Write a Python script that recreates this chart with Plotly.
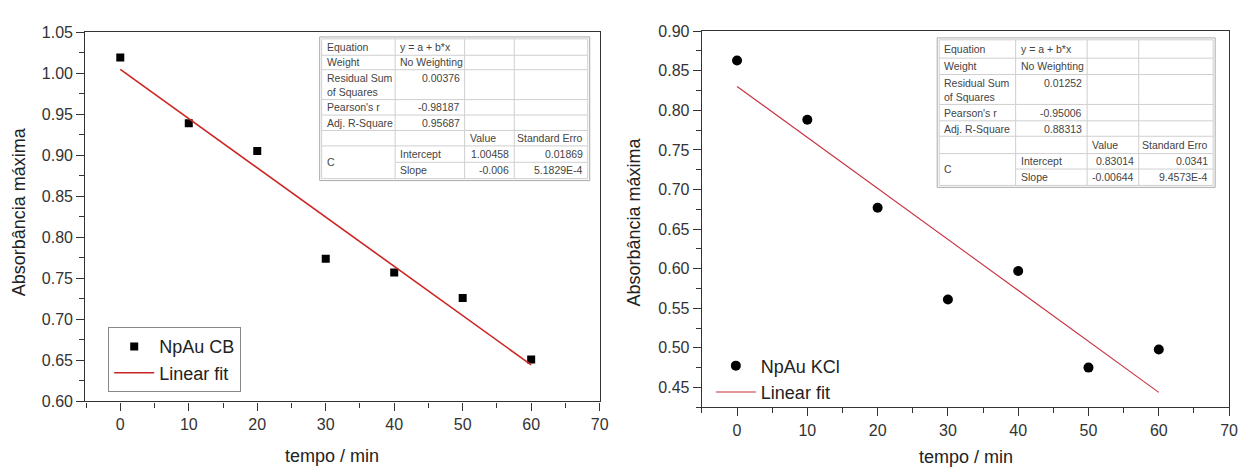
import plotly.graph_objects as go

W, H = 1249, 476

# ---- data ----
t_cb = [0, 10, 20, 30, 40, 50, 60]
abs_cb = [1.019, 0.939, 0.905, 0.774, 0.757, 0.726, 0.651]
fit_cb = {"a": 1.00458, "b": -0.006}

t_kcl = [0, 10, 20, 30, 40, 50, 60]
abs_kcl = [0.863, 0.788, 0.677, 0.561, 0.597, 0.475, 0.498]
fit_kcl = {"a": 0.83014, "b": -0.00644}

table_cb = ["0.00376", "-0.98187", "0.95687", "1.00458", "0.01869", "-0.006", "5.1829E-4"]
table_kcl = ["0.01252", "-0.95006", "0.88313", "0.83014", "0.0341", "-0.00644", "9.4573E-4"]

x_ticks = [0, 10, 20, 30, 40, 50, 60, 70]


def px(x):
    return x / W


def py(y):
    return 1 - y / H


FONT = "Liberation Sans, Arial"

fig = go.Figure()

fig.add_trace(go.Scatter(x=t_cb, y=abs_cb, mode="markers", name="NpAu CB",
                         marker=dict(symbol="square", size=8, color="black"),
                         xaxis="x", yaxis="y", legend="legend"))
fx = [t_cb[0], t_cb[-1]]
fig.add_trace(go.Scatter(x=fx, y=[fit_cb["a"] + fit_cb["b"] * v for v in fx], mode="lines",
                         name="Linear fit", line=dict(color="#cc2424", width=1.6),
                         xaxis="x", yaxis="y", legend="legend"))

fig.add_trace(go.Scatter(x=t_kcl, y=abs_kcl, mode="markers", name="NpAu KCl",
                         marker=dict(symbol="circle", size=10, color="black"),
                         xaxis="x2", yaxis="y2", legend="legend2"))
fx2 = [t_kcl[0], t_kcl[-1]]
fig.add_trace(go.Scatter(x=fx2, y=[fit_kcl["a"] + fit_kcl["b"] * v for v in fx2], mode="lines",
                         name="Linear fit", line=dict(color="#c8303c", width=1.1),
                         xaxis="x2", yaxis="y2", legend="legend2"))

tickfont = dict(family=FONT, size=16, color="#333")
axcommon = dict(showgrid=False, zeroline=False, showline=True, linecolor="#333", linewidth=1.4,
                mirror=True, ticks="outside", ticklen=8, tickcolor="#333", tickwidth=1.4,
                tickfont=tickfont)
minor_common = dict(ticks="outside", ticklen=5, tickcolor="#333", tickwidth=1.2)

fig.update_layout(
    width=W, height=H, margin=dict(l=0, r=0, t=0, b=0),
    plot_bgcolor="white", paper_bgcolor="white",
    xaxis=dict(domain=[px(86), px(604)], range=[-5.1, 70], tickvals=x_ticks,
               minor=dict(dtick=5, tick0=0, **minor_common),
               anchor="y", **axcommon),
    yaxis=dict(domain=[py(408), py(25)], range=[0.60, 1.05], dtick=0.05, tickformat=".2f",
               minor=dict(dtick=0.025, **minor_common),
               anchor="x", **axcommon),
    xaxis2=dict(domain=[px(707), px(1238)], range=[-5, 70], tickvals=x_ticks,
                minor=dict(dtick=5, tick0=0, **minor_common),
                anchor="y2", **axcommon),
    yaxis2=dict(domain=[py(414), py(24)], range=[0.425, 0.90], dtick=0.05, tick0=0.45, tickformat=".2f",
                minor=dict(dtick=0.025, tick0=0.45, **minor_common),
                anchor="x2", **axcommon),
    legend=dict(x=px(109), y=py(331), xanchor="left", yanchor="top",
                bgcolor="white", bordercolor="#888", borderwidth=1,
                font=dict(family=FONT, size=18, color="#222"),
                tracegroupgap=0, itemwidth=40),
    legend2=dict(x=px(716), y=py(352), xanchor="left", yanchor="top",
                 bgcolor="rgba(0,0,0,0)", borderwidth=0,
                 font=dict(family=FONT, size=18, color="#222"),
                 tracegroupgap=0, itemwidth=40),
)

annots = []
shapes = []
titlefont = dict(family=FONT, size=18, color="#222")


def title(x, y, text, angle=0):
    annots.append(dict(x=px(x), y=py(y), text=text, textangle=angle, showarrow=False,
                       xref="paper", yref="paper", xanchor="center", yanchor="middle",
                       font=titlefont))


title(20, 211, "Absorbância máxima", -90)
title(639, 222, "Absorbância máxima", -90)
title(334, 465, "tempo / min")
title(973, 466, "tempo / min")


def add_table(cols, rows, vals):
    f = dict(family=FONT, size=10.5, color="#444")
    gc = "#cfcfcf"
    x0, x1 = cols[0], cols[-1]
    for i, yb in enumerate(rows):
        xs = cols[1] if i == 7 else x0
        shapes.append(dict(type="line", xref="paper", yref="paper", x0=px(xs), x1=px(x1),
                           y0=py(yb), y1=py(yb), line=dict(color=gc, width=1)))
    for c in cols:
        shapes.append(dict(type="line", xref="paper", yref="paper", x0=px(c), x1=px(c),
                           y0=py(rows[0]), y1=py(rows[-1]), line=dict(color=gc, width=1)))
    shapes.append(dict(type="rect", xref="paper", yref="paper", x0=px(x0 - 2), x1=px(x1 + 2),
                       y0=py(rows[-1] + 2), y1=py(rows[0] - 2), line=dict(color="#aaa", width=1)))

    def cell(ci, ri, text, align="left", yc=None):
        if yc is None:
            yc = (rows[ri] + rows[ri + 1]) / 2
        if align == "left":
            xx, xa = cols[ci] + 3, "left"
        else:
            xx, xa = cols[ci + 1] - 3, "right"
        annots.append(dict(x=px(xx), y=py(yc), text=text, showarrow=False, xref="paper", yref="paper",
                           xanchor=xa, yanchor="middle", font=f))

    r2 = rows[2]
    cell(0, 0, "Equation")
    cell(1, 0, "y = a + b*x")
    cell(0, 1, "Weight")
    cell(1, 1, "No Weighting")
    cell(0, 2, "Residual Sum", yc=r2 + 9)
    cell(0, 2, "of Squares", yc=r2 + 23)
    cell(1, 2, vals[0], "right", yc=r2 + 9)
    cell(0, 3, "Pearson's r")
    cell(1, 3, vals[1], "right")
    cell(0, 4, "Adj. R-Square")
    cell(1, 4, vals[2], "right")
    cell(2, 5, "Value")
    cell(3, 5, "Standard Erro", "right")
    cell(0, 6, "C", yc=rows[7])
    cell(1, 6, "Intercept")
    cell(2, 6, vals[3], "right")
    cell(3, 6, vals[4], "right")
    cell(1, 7, "Slope")
    cell(2, 7, vals[5], "right")
    cell(3, 7, vals[6], "right")


add_table([324, 398, 468, 518, 592], [32, 49, 64, 95, 111, 127, 143, 160, 177], table_cb)
add_table([946, 1023, 1095, 1147, 1222], [33, 52, 69, 100, 117, 133, 151, 167, 184], table_kcl)

fig.update_layout(annotations=annots, shapes=shapes)
fig.write_html("out.html")
